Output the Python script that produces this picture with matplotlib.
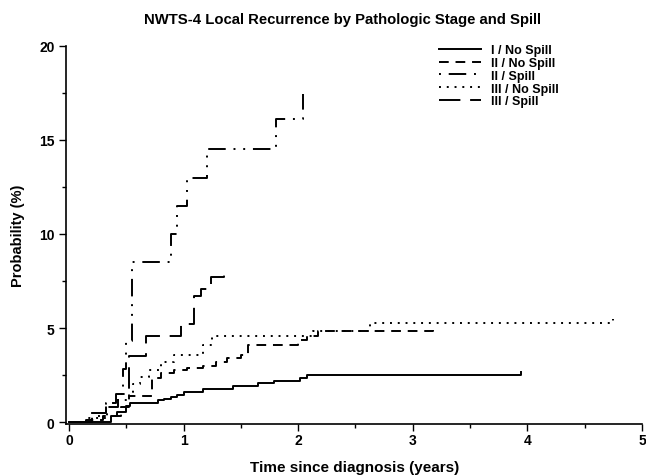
import matplotlib
matplotlib.use("Agg")
import matplotlib.pyplot as plt

plt.rcParams['font.family'] = ['Liberation Sans', 'DejaVu Sans']

# -------------------------
# DATA
# -------------------------

labels = ["I / No Spill", "II / No Spill", "II / Spill", "III / No Spill", "III / Spill"]

t_1_nospill = [0, 0.37, 0.42, 0.5, 0.53, 0.78, 0.83, 0.89, 0.94, 1.0, 1.17, 1.43, 1.65, 1.79, 2.02, 2.08, 3.94]
p_1_nospill = [0, 0.3, 0.55, 0.85, 1.0, 1.15, 1.25, 1.35, 1.45, 1.6, 1.75, 1.9, 2.05, 2.2, 2.35, 2.5, 2.65]

t_2_nospill = [0, 0.15, 0.3, 0.45, 0.52, 0.72, 0.8, 0.92, 1.03, 1.17, 1.28, 1.38, 1.5, 1.56, 2.0, 2.08, 2.17, 3.18]
p_2_nospill = [0, 0.1, 0.3, 0.8, 1.4, 2.35, 2.6, 2.75, 2.85, 3.0, 3.2, 3.4, 3.55, 4.1, 4.35, 4.6, 4.85, 5.0]

t_2_spill = [0, 0.2, 0.33, 0.43, 0.47, 0.5, 0.55, 0.89, 0.94, 1.03, 1.2, 1.81, 2.04]
p_2_spill = [0, 0.3, 0.8, 1.5, 2.8, 4.3, 8.5, 10.0, 11.5, 13.0, 14.5, 16.1, 17.45]

t_3_nospill = [0, 0.17, 0.32, 0.42, 0.52, 0.56, 0.62, 0.7, 0.8, 0.92, 1.17, 1.25, 2.13, 2.63, 4.75]
p_3_nospill = [0, 0.2, 1.0, 1.15, 1.6, 2.0, 2.4, 2.75, 3.2, 3.55, 4.1, 4.55, 4.85, 5.25, 5.5]

t_3_spill = [0, 0.19, 0.32, 0.41, 0.52, 0.67, 0.98, 1.09, 1.15, 1.24, 1.35]
p_3_spill = [0, 0.5, 1.0, 1.5, 3.5, 4.6, 5.2, 6.7, 7.1, 7.7, 8.2]

# -------------------------
# PLOT
# -------------------------

fig = plt.figure(figsize=(6.46, 4.77), dpi=100)
ax = fig.add_axes([0.1029, 0.109, 0.8909, 0.7925])

styles = [
    "-",
    (0, (5, 3.5)),
    (0, (1, 4, 9, 4, 1, 4)),
    (0, (1, 3)),
    (0, (11, 5)),
]

series = [
    (t_1_nospill, p_1_nospill),
    (t_2_nospill, p_2_nospill),
    (t_2_spill, p_2_spill),
    (t_3_nospill, p_3_nospill),
    (t_3_spill, p_3_spill),
]

for (t, p), ls, lab in zip(series, styles, labels):
    ax.step(t, p, where="post", color="black", linestyle=ls, linewidth=1.4, label=lab)

ax.set_xlim(-0.022, 5.0)
ax.set_ylim(-0.106, 20)

ax.set_xticks([0, 1, 2, 3, 4, 5])
ax.set_xticks([0.5, 1.5, 2.5, 3.5, 4.5], minor=True)
ax.set_yticks([0, 5, 10, 15, 20])
ax.set_yticks([2.5, 7.5, 12.5, 17.5], minor=True)

ax.spines["top"].set_visible(False)
ax.spines["right"].set_visible(False)
for s in ["left", "bottom"]:
    ax.spines[s].set_linewidth(1.2)

ax.tick_params(which="major", direction="out", length=5, width=1, labelsize=10)
ax.tick_params(which="minor", direction="out", length=3, width=1)
ax.tick_params(axis="x", which="major", pad=1.5)
for lbl in ax.get_xticklabels() + ax.get_yticklabels():
    lbl.set_fontweight("bold")

ax.set_xlabel("Time since diagnosis (years)", fontsize=11, fontweight="bold", labelpad=9)
ax.set_ylabel("Probability (%)", fontsize=10.5, fontweight="bold", labelpad=10)

fig.text(0.530, 0.958, "NWTS-4 Local Recurrence by Pathologic Stage and Spill",
         fontsize=10.7, fontweight="bold", ha="center", va="center")

leg = fig.legend(loc="upper left", bbox_to_anchor=(0.670, 0.918), frameon=False,
                 fontsize=9, handlelength=3.36, handletextpad=0.8,
                 labelspacing=0.06, borderpad=0)
for txt in leg.get_texts():
    txt.set_fontweight("bold")

plt.savefig("out.png", dpi=100)
